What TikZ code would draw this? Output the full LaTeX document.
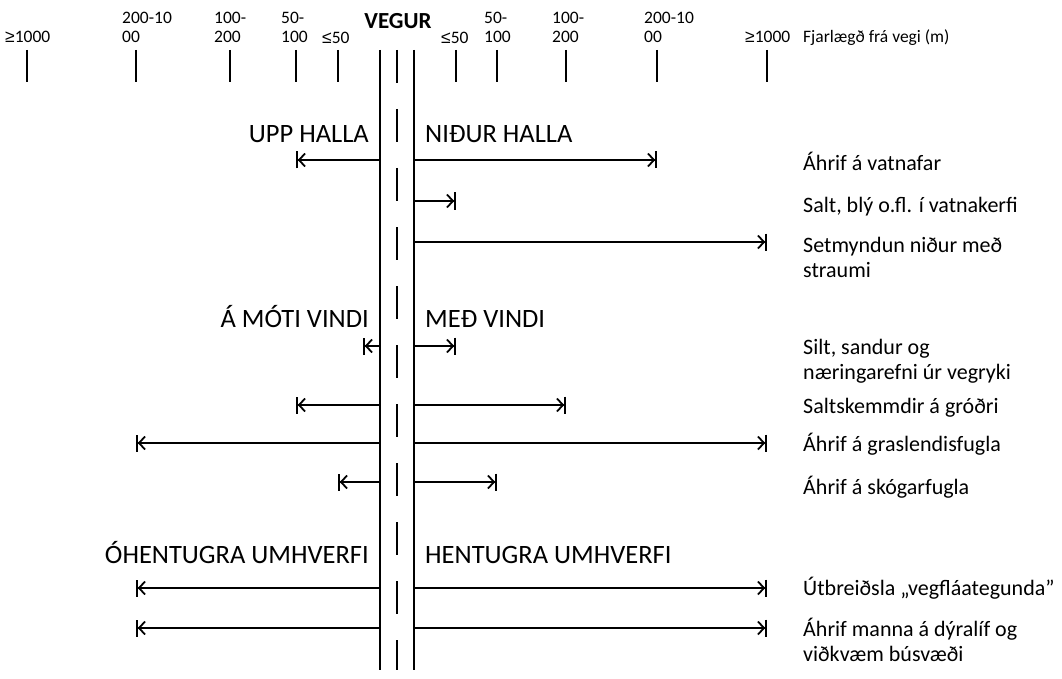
\documentclass[tikz,border=0pt]{standalone}
\usepackage{fontspec}
\setmainfont{Carlito}
\newfontfamily\symfont{Liberation Sans}
\newcommand\atleast{{\symfont ≥}}
\newcommand\atmost{{\symfont ≤}}
\usetikzlibrary{arrows.meta}

\begin{document}
\begin{tikzpicture}[x=1pt,y=-1pt,
    road/.style={line width=2.4pt},
    tickmark/.style={line width=2pt},
    reach/.style={line width=1.8pt,-{Straight Barb[length=6pt,width=13pt,sep=0pt]Bar[width=17pt]}},
    scalelabel/.style={font=\fontsize{17.5}{19}\selectfont,align=left,inner sep=0pt,anchor=base west},
    header/.style={font=\fontsize{26.5}{30}\selectfont,inner sep=0pt},
    effect/.style={font=\fontsize{22}{25}\selectfont,align=left,inner sep=0pt,anchor=base west}]

  \useasboundingbox (0,0) rectangle (1062,679);

  % road
  \coordinate (roadtop) at (397,50);
  \coordinate (roadbot) at (397,670);
  \draw[road] ([xshift=-17pt]roadtop) -- ([xshift=-17pt]roadbot);
  \draw[road] ([xshift=17pt]roadtop) -- ([xshift=17pt]roadbot);
  \draw[road,dash pattern=on 33pt off 26pt] (roadtop) -- (roadbot);

  % distance scale
  \foreach \name/\x in {lA/27,lB/136,lC/230,lD/296,lE/338,rE/456,rD/497,rC/566,rB/657,rA/767}{
    \coordinate (\name) at (\x,50);
    \draw[tickmark] (\name) -- ++(0,32);
  }
  \node[scalelabel] (sA) at (5,43) {\atleast1000};
  \node[scalelabel] (sB) at (122,43) {200-10\\00};
  \node[scalelabel] (sC) at (214,43) {100-\\200};
  \node[scalelabel] (sD) at (281,43) {50-\\100};
  \node[scalelabel] (sE) at (322,44) {\atmost50};
  \node[font=\bfseries\fontsize{23}{26}\selectfont,inner sep=0pt,anchor=base] (vegur) at (398,29) {VEGUR};
  \node[scalelabel] (tE) at (441,44) {\atmost50};
  \node[scalelabel] (tD) at (484,43) {50-\\100};
  \node[scalelabel] (tC) at (552,43) {100-\\200};
  \node[scalelabel] (tB) at (644,43) {200-10\\00};
  \node[scalelabel] (tA) at (745,43) {\atleast1000};
  \node[scalelabel] (unit) at (803,43) {Fjarlægð frá vegi (m)};

  % rows
  \foreach \y [count=\i] in {160,201,242,346,405,443,482,588,628}{
    \coordinate (L\i) at (380,\y);
    \coordinate (R\i) at (414,\y);
  }

  \node[header,anchor=base east] (upp) at (369,143) {UPP HALLA};
  \node[header,anchor=base west] (nidur) at (425,143) {NIÐUR HALLA};
  \node[header,anchor=base east] (moti) at (369,327) {Á MÓTI VINDI};
  \node[header,anchor=base west] (med) at (425,327) {MEÐ VINDI};
  \node[header,anchor=base east] (ohent) at (369,563) {ÓHENTUGRA UMHVERFI};
  \node[header,anchor=base west] (hent) at (425,563) {HENTUGRA UMHVERFI};

  \draw[reach] (L1) -- (L1 -| lD);
  \draw[reach] (R1) -- (R1 -| rB);
  \draw[reach] (R2) -- (R2 -| rE);
  \draw[reach] (R3) -- (R3 -| rA);
  \draw[reach] (L4) -- ([xshift=-17pt]L4);
  \draw[reach] (R4) -- (R4 -| rE);
  \draw[reach] (L5) -- (L5 -| lD);
  \draw[reach] (R5) -- (R5 -| rC);
  \draw[reach] (L6) -- (L6 -| lB);
  \draw[reach] (R6) -- (R6 -| rA);
  \draw[reach] (L7) -- (L7 -| lE);
  \draw[reach] (R7) -- (R7 -| rD);
  \draw[reach] (L8) -- (L8 -| lB);
  \draw[reach] (R8) -- (R8 -| rA);
  \draw[reach] (L9) -- (L9 -| lB);
  \draw[reach] (R9) -- (R9 -| rA);

  % effects
  \node[effect] (e1) at (803,171) {Áhrif á vatnafar};
  \node[effect] (e2) at (803,212) {Salt, blý o.fl. í vatnakerfi};
  \node[effect] (e3) at (803,277) {Setmyndun niður með\\straumi};
  \node[effect] (e4) at (803,379) {Silt, sandur og\\næringarefni úr vegryki};
  \node[effect] (e5) at (803,413) {Saltskemmdir á gróðri};
  \node[effect] (e6) at (803,451) {Áhrif á graslendisfugla};
  \node[effect] (e7) at (803,494) {Áhrif á skógarfugla};
  \node[effect] (e8) at (803,595) {Útbreiðsla „vegfláategunda”};
  \node[effect] (e9) at (803,661) {Áhrif manna á dýralíf og\\viðkvæm búsvæði};
\end{tikzpicture}
\end{document}
